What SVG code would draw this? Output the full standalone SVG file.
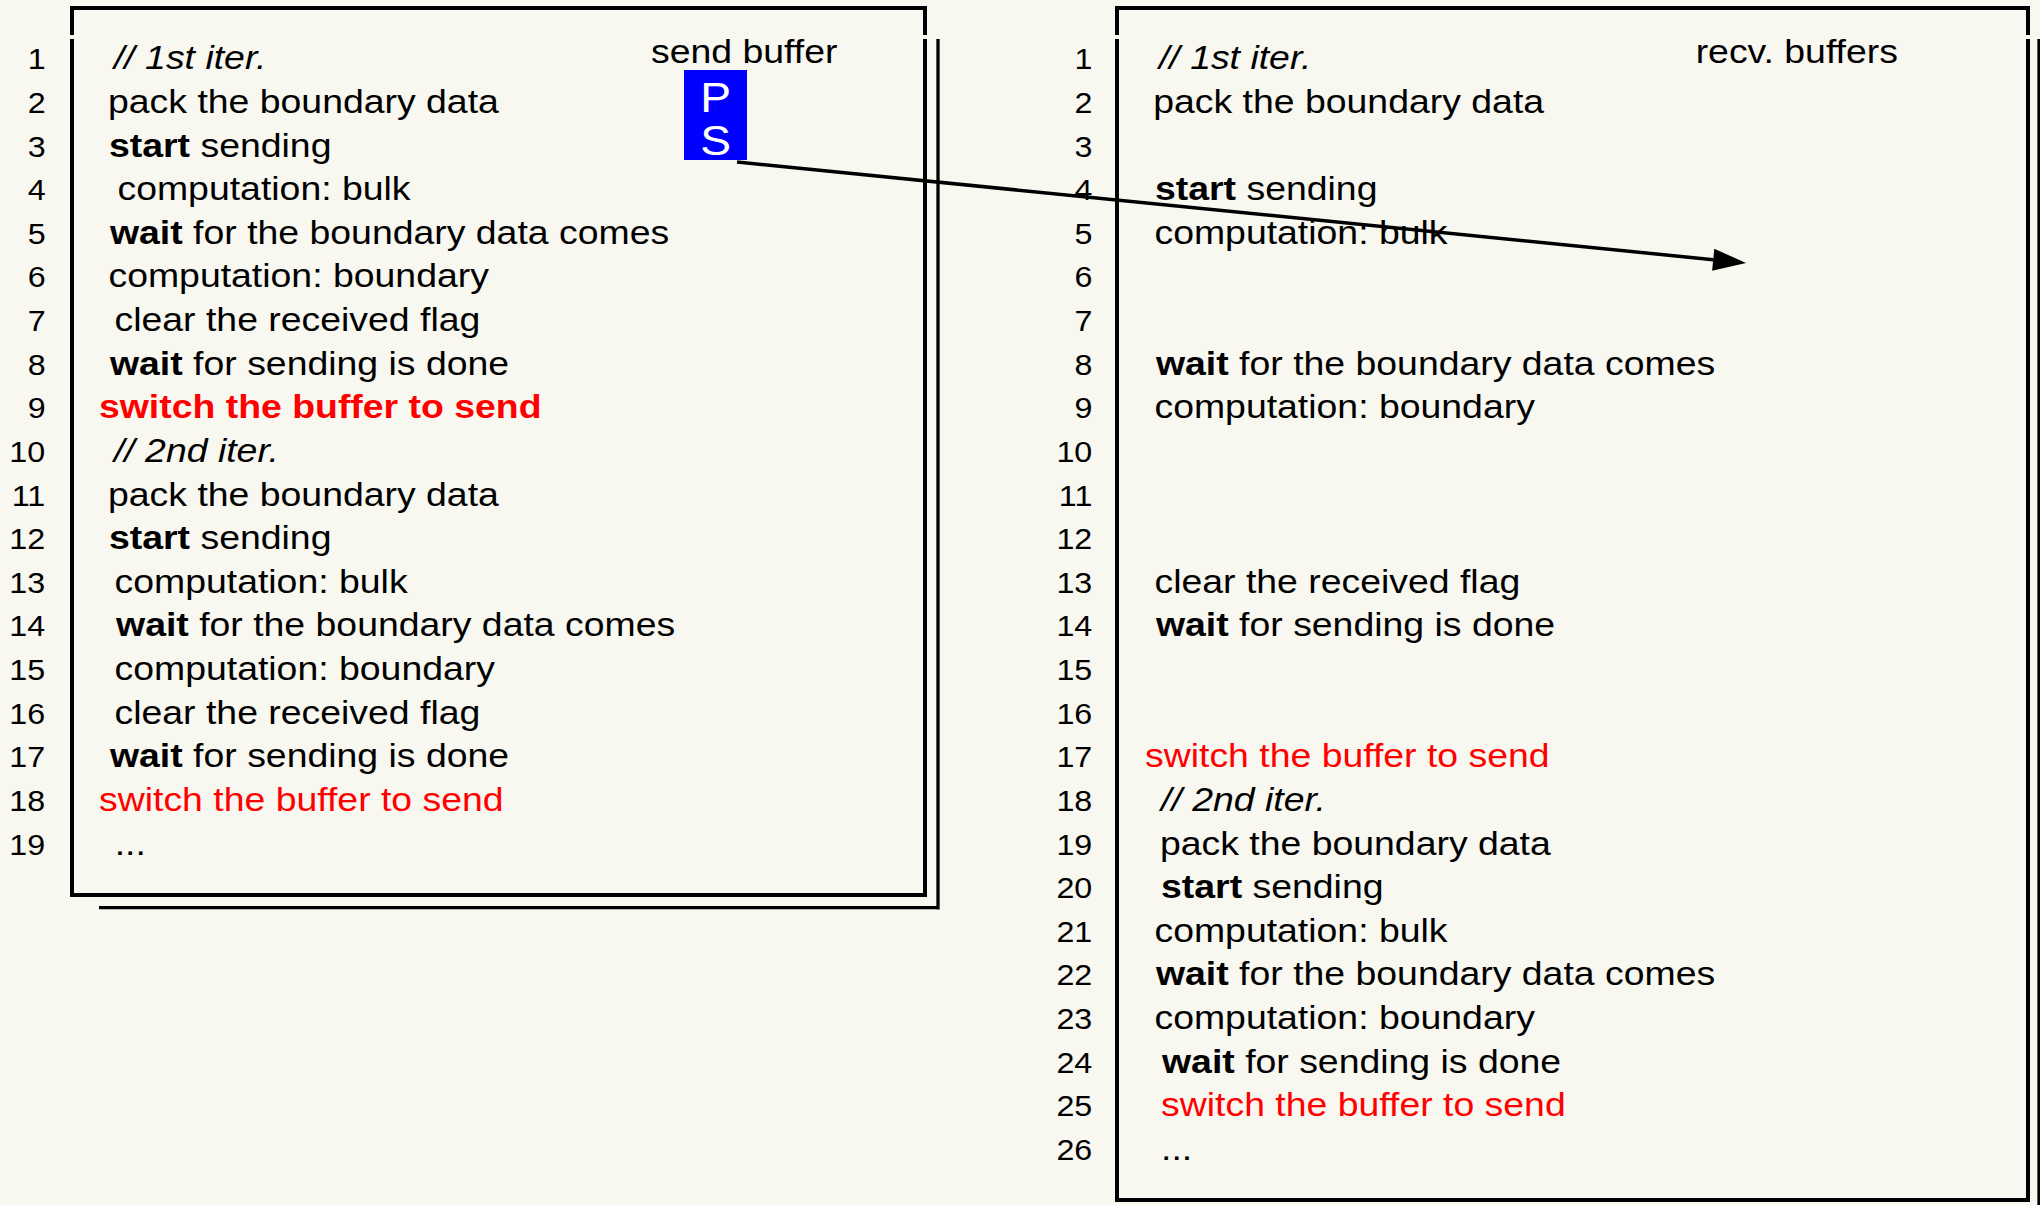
<svg xmlns="http://www.w3.org/2000/svg" width="2040" height="1205" viewBox="0 0 2040 1205">
<style>
text{font-family:"Liberation Sans",Arial,Helvetica,sans-serif;fill:#000}
.t{font-size:34px}
.n{font-size:29.3px;text-anchor:end}
.b{font-weight:bold}
.i{font-style:italic}
.r{fill:#ff0000}
.ps{font-size:42px;fill:#fff;text-anchor:middle}
.frame{fill:none;stroke:#000;stroke-width:4}
.shadow{fill:none;stroke:#000;stroke-width:3.3}
.conn{fill:none;stroke:#000;stroke-width:3.5}
</style>
<defs>
<marker id="ah" markerUnits="userSpaceOnUse" markerWidth="34" markerHeight="22" refX="0" refY="11" orient="auto" overflow="visible">
<path d="M0,0 L33,11 L0,22 Z" fill="#000"/>
</marker>
</defs>
<rect width="2040" height="1205" fill="#f8f7f0"/>

<g id="send-panel">
<path class="frame" d="M70,8 H927 M72,6 V35 M72,39 V897 M925,6 V35 M925,39 V897 M70,895 H927"/>
<path class="shadow" d="M938,39 V909.4 M99,907.7 H939.6"/>
<g transform="scale(1.1 1)">
<g class="n">
<text x="41.5" y="69.3">1</text>
<text x="41.5" y="112.9">2</text>
<text x="41.5" y="156.6">3</text>
<text x="41.5" y="200.2">4</text>
<text x="41.5" y="243.8">5</text>
<text x="41.5" y="287.5">6</text>
<text x="41.5" y="331.1">7</text>
<text x="41.5" y="374.7">8</text>
<text x="41.5" y="418.3">9</text>
<text x="41" y="462">10</text>
<text x="41" y="505.6">11</text>
<text x="41" y="549.2">12</text>
<text x="41" y="592.9">13</text>
<text x="41" y="636.5">14</text>
<text x="41" y="680.1">15</text>
<text x="41" y="723.8">16</text>
<text x="41" y="767.4">17</text>
<text x="41" y="811">18</text>
<text x="41" y="854.6">19</text>
</g>
<g class="t">
<text x="103.6" y="69.3" class="t i">// 1st iter.</text>
<text x="98.2" y="112.9">pack the boundary data</text>
<text x="99.1" y="156.6"><tspan class="b">start</tspan> sending</text>
<text x="106.8" y="200.2">computation: bulk</text>
<text x="100" y="243.8"><tspan class="b">wait</tspan> for the boundary data comes</text>
<text x="98.6" y="287.5">computation: boundary</text>
<text x="104.1" y="331.1">clear the received flag</text>
<text x="100" y="374.7"><tspan class="b">wait</tspan> for sending is done</text>
<text x="90" y="418.3" class="t b r">switch the buffer to send</text>
<text x="103.6" y="462" class="t i">// 2nd iter.</text>
<text x="98.2" y="505.6">pack the boundary data</text>
<text x="99.1" y="549.2"><tspan class="b">start</tspan> sending</text>
<text x="104.1" y="592.9">computation: bulk</text>
<text x="105.5" y="636.5"><tspan class="b">wait</tspan> for the boundary data comes</text>
<text x="104.1" y="680.1">computation: boundary</text>
<text x="104.1" y="723.8">clear the received flag</text>
<text x="100" y="767.4"><tspan class="b">wait</tspan> for sending is done</text>
<text x="90" y="811" class="t r">switch the buffer to send</text>
<text x="104.3" y="854.6">...</text>
<text x="591.8" y="63">send buffer</text>
</g>
</g>
</g>

<g id="send-buffer">
<rect x="684" y="70" width="63" height="45" fill="#0000ff"/>
<rect x="684" y="115" width="63" height="45" fill="#0000ff"/>
<g transform="scale(1.1 1)">
<text class="ps" x="650.5" y="112">P</text>
<text class="ps" x="650.5" y="155">S</text>
</g>
</g>

<g id="recv-panel">
<path class="frame" d="M1115,8 H2030 M1117,6 V35 M1117,39 V1202 M2028,6 V35 M2028,39 V1202 M1115,1200 H2030"/>
<path class="shadow" d="M2039,39 V1205"/>
<g transform="scale(1.1 1)">
<g class="n">
<text x="993" y="69.3">1</text>
<text x="993" y="112.9">2</text>
<text x="993" y="156.6">3</text>
<text x="993" y="200.2">4</text>
<text x="993" y="243.8">5</text>
<text x="993" y="287.5">6</text>
<text x="993" y="331.1">7</text>
<text x="993" y="374.7">8</text>
<text x="993" y="418.3">9</text>
<text x="993" y="462">10</text>
<text x="993" y="505.6">11</text>
<text x="993" y="549.2">12</text>
<text x="993" y="592.9">13</text>
<text x="993" y="636.5">14</text>
<text x="993" y="680.1">15</text>
<text x="993" y="723.8">16</text>
<text x="993" y="767.4">17</text>
<text x="993" y="811">18</text>
<text x="993" y="854.6">19</text>
<text x="993" y="898.3">20</text>
<text x="993" y="941.9">21</text>
<text x="993" y="985.5">22</text>
<text x="993" y="1029.2">23</text>
<text x="993" y="1072.8">24</text>
<text x="993" y="1116.4">25</text>
<text x="993" y="1160">26</text>
</g>
<g class="t">
<text x="1053.6" y="69.3" class="t i">// 1st iter.</text>
<text x="1048.4" y="112.9">pack the boundary data</text>
<text x="1050" y="200.2"><tspan class="b">start</tspan> sending</text>
<text x="1049.5" y="243.8">computation: bulk</text>
<text x="1050.9" y="374.7"><tspan class="b">wait</tspan> for the boundary data comes</text>
<text x="1049.5" y="418.3">computation: boundary</text>
<text x="1049.5" y="592.9">clear the received flag</text>
<text x="1050.9" y="636.5"><tspan class="b">wait</tspan> for sending is done</text>
<text x="1040.9" y="767.4" class="t r">switch the buffer to send</text>
<text x="1055.5" y="811" class="t i">// 2nd iter.</text>
<text x="1054.5" y="854.6">pack the boundary data</text>
<text x="1055.5" y="898.3"><tspan class="b">start</tspan> sending</text>
<text x="1049.5" y="941.9">computation: bulk</text>
<text x="1050.9" y="985.5"><tspan class="b">wait</tspan> for the boundary data comes</text>
<text x="1049.5" y="1029.2">computation: boundary</text>
<text x="1056.4" y="1072.8"><tspan class="b">wait</tspan> for sending is done</text>
<text x="1055.5" y="1116.4" class="t r">switch the buffer to send</text>
<text x="1055.5" y="1160">...</text>
<text x="1541.5" y="63">recv. buffers</text>
</g>
</g>
</g>

<g id="connectors">
<path class="conn" d="M737,162 L1713.2,259.7" marker-end="url(#ah)"/>
</g>
</svg>
